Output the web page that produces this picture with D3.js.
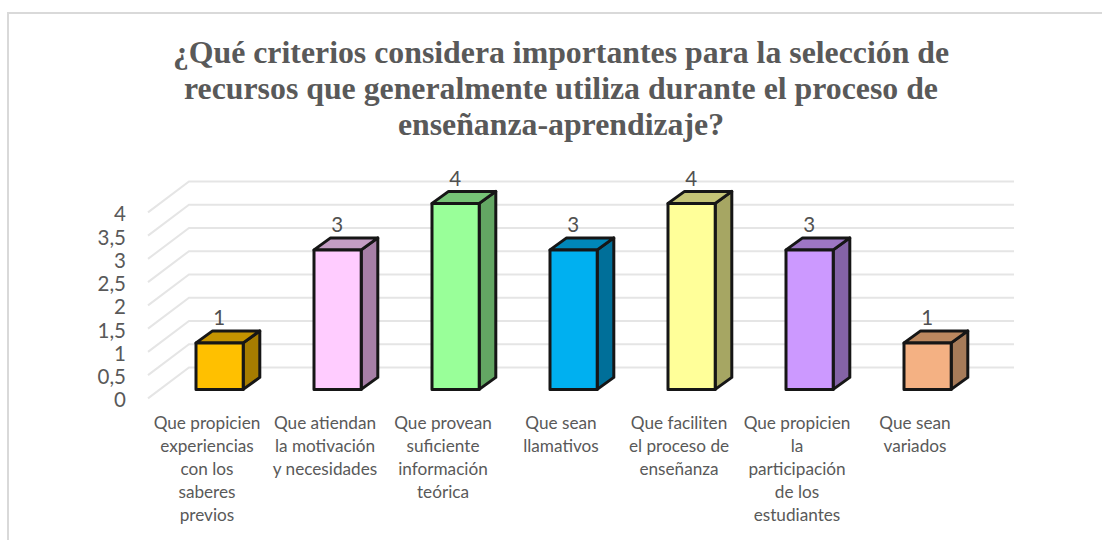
<!DOCTYPE html>
<html><head><meta charset="utf-8">
<script src="https://cdn.jsdelivr.net/npm/d3@7/dist/d3.min.js"></script>
<style>html,body{margin:0;padding:0;background:#fff}svg{display:block}</style></head>
<body><svg id="c" width="1102" height="540"></svg>
<script>
const titleLines = ["¿Qué criterios considera importantes para la selección de","recursos que generalmente utiliza durante el proceso de","enseñanza-aprendizaje?"];
const categories = ["a","b","c","d","e","f","g"];
const categoryLabels = [
 ["Que propicien","experiencias","con los","saberes","previos"],
 ["Que atiendan","la motivación","y necesidades"],
 ["Que provean","suficiente","información","teórica"],
 ["Que sean","llamativos"],
 ["Que faciliten","el proceso de","enseñanza"],
 ["Que propicien","la","participación","de los","estudiantes"],
 ["Que sean","variados"]];
const values = [1,3,4,3,4,3,1];
const frontColors = ["#FFC000","#FFCCFF","#99FF99","#00B0F0","#FFFF99","#CC99FF","#F4B183"];
const topColors = ["#C49300","#C49DC4","#76C476","#0087B9","#C4C476","#9D76C4","#BC885F"];
const sideColors = ["#A67C00","#A67FA6","#63A663","#006F99","#A6A663","#8463A6","#A67B59"];
const ticks = [0,0.5,1,1.5,2,2.5,3,3.5,4];
const tickLabels = ["0","0,5","1","1,5","2","2,5","3","3,5","4"];

const svg = d3.select("#c");
const W=1102,H=540;
const depthWall={dx:41,dy:31}, depthBar={dx:16.6,dy:12}, barShift={dx:11.6,dy:9};
const x=d3.scaleBand().domain(categories).range([149,975]).paddingInner(0.6).paddingOuter(0.3);
const y=d3.scaleLinear().domain([0,4]).range([398.4,212.4]);

svg.append("path").attr("d",`M8,${H}V13H${W}`).attr("fill","none").attr("stroke","#D9D9D9").attr("stroke-width",2);

svg.append("text").attr("text-anchor","middle").attr("font-family","'Liberation Serif'").attr("font-weight","bold")
 .attr("font-size",31.8).attr("fill","#595959")
 .selectAll("tspan").data(titleLines).join("tspan").attr("x",561).attr("y",(d,i)=>63+i*36).text(d=>d);

const g=svg.append("g").attr("fill","none").attr("stroke","#E5E5E5").attr("stroke-width",2);
g.selectAll("path").data(ticks).join("path")
 .attr("d",d=>`M148,${y(d)}L${148+depthWall.dx},${y(d)-depthWall.dy}H1014`);

svg.append("g").attr("font-family","Lato").attr("font-size",20.5).attr("fill","#595959").attr("text-anchor","end")
 .selectAll("text").data(ticks).join("text").attr("x",126).attr("y",d=>y(d)+9).text((d,i)=>tickLabels[i]);

const bars=svg.append("g").attr("stroke","#161616").attr("stroke-width",3).attr("stroke-linejoin","round")
 .selectAll("g").data(categories).join("g");
const bx=c=>x(c)+barShift.dx, by=v=>y(v)-barShift.dy, bw=x.bandwidth();
bars.append("path").attr("fill",(c,i)=>sideColors[i]).attr("d",(c,i)=>{const l=bx(c)+bw,t=by(values[i]),b=by(0);
  return `M${l},${t}L${l+depthBar.dx},${t-depthBar.dy}V${b-depthBar.dy}L${l},${b}Z`;});
bars.append("path").attr("fill",(c,i)=>topColors[i]).attr("d",(c,i)=>{const l=bx(c),t=by(values[i]);
  return `M${l},${t}L${l+depthBar.dx},${t-depthBar.dy}H${l+bw+depthBar.dx}L${l+bw},${t}Z`;});
bars.append("rect").attr("fill",(c,i)=>frontColors[i]).attr("x",c=>bx(c)).attr("width",bw)
  .attr("y",(c,i)=>by(values[i])).attr("height",(c,i)=>by(0)-by(values[i]));

svg.append("g").attr("font-family","Lato").attr("font-size",20.5).attr("fill","#505050").attr("text-anchor","middle")
 .selectAll("text").data(categories).join("text").attr("x",c=>bx(c)+bw/2-0.5).attr("y",(c,i)=>by(values[i])-17.5).text((c,i)=>values[i]);

svg.append("g").attr("font-family","Lato").attr("font-size",17.2).attr("fill","#595959").attr("text-anchor","middle")
 .selectAll("text").data(categories).join("text")
 .selectAll("tspan").data((c,i)=>categoryLabels[i].map(t=>({c,t}))).join("tspan")
 .attr("x",d=>x(d.c)+bw/2-1).attr("y",(d,i)=>429+i*23).text(d=>d.t);
</script></body></html>
